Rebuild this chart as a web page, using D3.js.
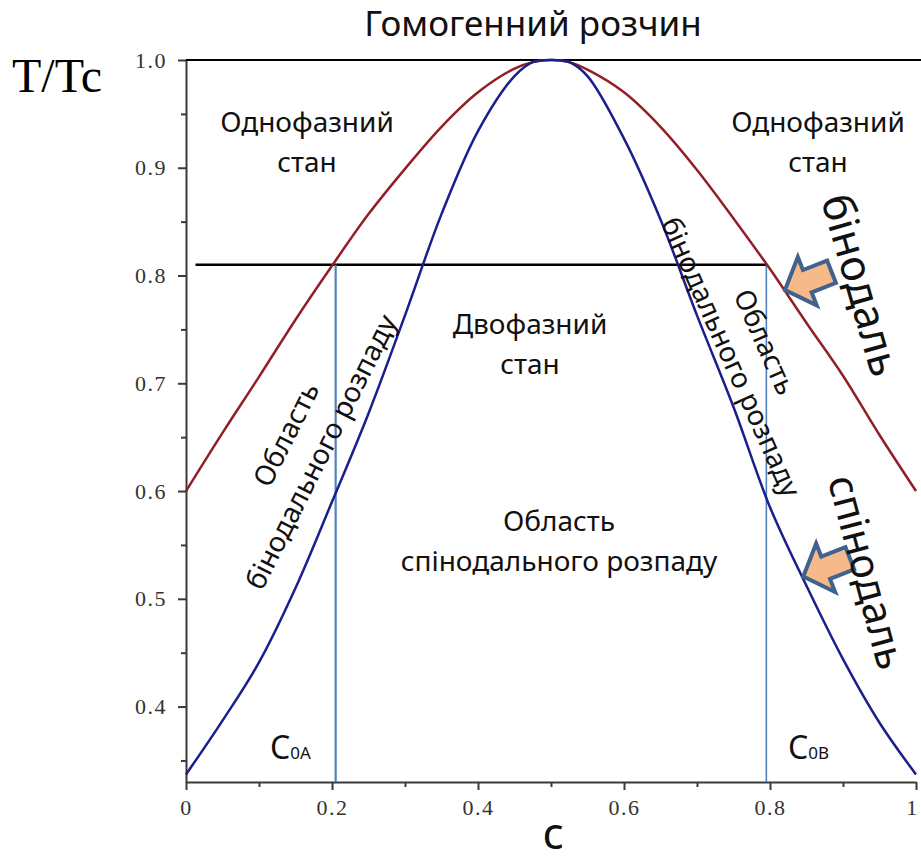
<!DOCTYPE html>
<html lang="uk">
<head>
<meta charset="UTF-8">
<title>Бінодаль і спінодаль</title>
<script src="https://d3js.org/d3.v7.min.js"></script>
<style>
    body { margin: 0; background: #fff; }
    svg { display: block; }
    .lbl { font-family: "Noto Sans", sans-serif; fill: #111; }
    .tick text { font-family: "Liberation Serif", "Times New Roman", serif; fill: #333; }
</style>
</head>
<body>
<script>
// concentration grid and curves
const cValues = [0, 0.05, 0.1, 0.15, 0.2, 0.25, 0.3, 0.35, 0.4, 0.45, 0.475, 0.5,
                 0.525, 0.55, 0.6, 0.65, 0.7, 0.75, 0.8, 0.85, 0.9, 0.95, 1];
const binodal = [0.600, 0.654, 0.706, 0.759, 0.809, 0.857, 0.899, 0.938, 0.970, 0.992, 0.998, 1.0,
                 0.998, 0.991, 0.970, 0.938, 0.898, 0.853, 0.806, 0.756, 0.707, 0.652, 0.600];
const spinodal = [0.337, 0.387, 0.441, 0.510, 0.590, 0.672, 0.763, 0.857, 0.934, 0.985, 0.998, 1.0,
                  0.998, 0.985, 0.927, 0.852, 0.763, 0.678, 0.585, 0.512, 0.444, 0.385, 0.337];

const xMajor = [0, 0.2, 0.4, 0.6, 0.8, 1];
const xMinor = [0.1, 0.3, 0.5, 0.7, 0.9];
const yMajor = [0.4, 0.5, 0.6, 0.7, 0.8, 0.9, 1.0];
const yMinor = [0.35, 0.45, 0.55, 0.65, 0.75, 0.85, 0.95];

// tie line and the two compositions c0A / c0B
const tieT = 0.81;
const tieStart = 0.013;
const c0 = [0.205, 0.795];
// arrow tips (c, T) pointing at the curves
const arrowTips = [[0.8205, 0.7866], [0.8456, 0.5207]];

const width = 921, height = 861;
const svg = d3.select("body").append("svg")
    .attr("width", width)
    .attr("height", height);

const x = d3.scaleLinear().domain([0, 1]).range([186, 916]);
const y = d3.scaleLinear().domain([0.33, 1.0]).range([782, 60]);

// axes
const yAxis = svg.append("g").attr("transform", `translate(${x(0)},0)`);
yAxis.call(d3.axisLeft(y).tickValues(yMajor).tickSize(8).tickSizeOuter(0)
    .tickFormat(d3.format(".1f")));
yAxis.append("g").call(d3.axisLeft(y).tickValues(yMinor).tickSize(5).tickFormat(""))
    .select(".domain").remove();
yAxis.selectAll(".tick text")
    .attr("x", -19)
    .attr("font-size", 22)
    .attr("letter-spacing", 1.5);

const xAxis = svg.append("g").attr("transform", `translate(0,${y(0.33)})`);
xAxis.call(d3.axisBottom(x).tickValues(xMajor).tickSize(8).tickSizeOuter(0)
    .tickFormat(d => (d === 0 || d === 1) ? d : d.toFixed(1)));
xAxis.append("g").call(d3.axisBottom(x).tickValues(xMinor).tickSize(5).tickFormat(""))
    .select(".domain").remove();
xAxis.selectAll(".tick text")
    .attr("y", 17)
    .attr("dx", d => d === 1 ? -4 : 0)
    .attr("font-size", 22)
    .attr("letter-spacing", 1.5);

svg.selectAll(".domain, .tick line")
    .attr("stroke", "#3a3a3a")
    .attr("stroke-width", 2);

// reference lines
svg.append("line")
    .attr("x1", x(0)).attr("x2", width)
    .attr("y1", y(1)).attr("y2", y(1))
    .attr("stroke", "#000").attr("stroke-width", 2);

svg.append("line")
    .attr("x1", x(tieStart)).attr("x2", x(c0[1]))
    .attr("y1", y(tieT)).attr("y2", y(tieT))
    .attr("stroke", "#000").attr("stroke-width", 2.5);

svg.selectAll(".c0line")
    .data(c0)
    .enter().append("line")
    .attr("class", "c0line")
    .attr("x1", d => x(d)).attr("x2", d => x(d))
    .attr("y1", y(tieT)).attr("y2", y(0.33))
    .attr("stroke", "#4f81bd")
    .attr("stroke-width", (d, i) => i === 0 ? 2.2 : 1.6);

// curves
const line = d3.line()
    .x((d, i) => x(cValues[i]))
    .y(d => y(d))
    .curve(d3.curveCatmullRom.alpha(0.5));

svg.append("path")
    .attr("d", line(binodal))
    .attr("fill", "none")
    .attr("stroke", "#921f27")
    .attr("stroke-width", 2.5);

svg.append("path")
    .attr("d", line(spinodal))
    .attr("fill", "none")
    .attr("stroke", "#1b1f8c")
    .attr("stroke-width", 2.5);

// block arrows
const arrowShape = [[0, 0], [24, -26], [24, -12], [50, -12], [50, 12], [24, 12], [24, 26]];
svg.selectAll(".arrow")
    .data(arrowTips)
    .enter().append("polygon")
    .attr("class", "arrow")
    .attr("points", arrowShape.map(p => p.join(",")).join(" "))
    .attr("transform", d => `translate(${x(d[0])},${y(d[1])}) rotate(-21.4)`)
    .attr("fill", "#f6b98a")
    .attr("stroke", "#41628c")
    .attr("stroke-width", 4)
    .attr("stroke-linejoin", "miter");

// texts
svg.append("text").attr("class", "lbl")
    .attr("x", 533).attr("y", 36)
    .attr("text-anchor", "middle")
    .attr("font-size", 35)
    .text("Гомогенний розчин");

svg.append("text")
    .attr("x", 12).attr("y", 92)
    .attr("font-family", "'Liberation Serif', 'Times New Roman', serif")
    .attr("font-size", 48)
    .text("T/Tc");

svg.append("text").attr("class", "lbl")
    .attr("x", 553).attr("y", 849)
    .attr("text-anchor", "middle")
    .attr("font-size", 44)
    .text("c");

function twoLines(cx, y1, a, b, size) {
    const t = svg.append("text").attr("class", "lbl")
        .attr("text-anchor", "middle")
        .attr("font-size", size);
    t.append("tspan").attr("x", cx).attr("y", y1).text(a);
    t.append("tspan").attr("x", cx).attr("y", y1 + 40).text(b);
}
twoLines(307, 132, "Однофазний", "стан", 28);
twoLines(818, 132, "Однофазний", "стан", 28);
twoLines(530, 334, "Двофазний", "стан", 28);
twoLines(559, 531, "Область", "спінодального розпаду", 28);

function rotated(tx, ty, ang, lines, size, gap) {
    const g = svg.append("g").attr("transform", `translate(${tx},${ty}) rotate(${ang})`);
    g.selectAll("text")
        .data(lines)
        .enter().append("text").attr("class", "lbl")
        .attr("text-anchor", "middle")
        .attr("font-size", size)
        .attr("y", (d, i) => (i - lines.length + 1) * gap)
        .attr("dy", "0.35em")
        .text(d => d);
}
rotated(321, 452, -63.4, ["Область", "бінодального розпаду"], 28, 39);
rotated(731, 357, 66, ["Область", "бінодального розпаду"], 28, 37);
rotated(861, 285, 74, ["бінодаль"], 43, 0);
rotated(867, 572, 75, ["спінодаль"], 41, 0);

// c0A, c0B
[["0A", 270], ["0B", 788]].forEach(([sub, px]) => {
    const t = svg.append("text").attr("class", "lbl")
        .attr("x", px).attr("y", 759);
    t.append("tspan").attr("font-size", 32).text("C");
    t.append("tspan").attr("font-size", 17).text(sub);
});
</script>
</body>
</html>
